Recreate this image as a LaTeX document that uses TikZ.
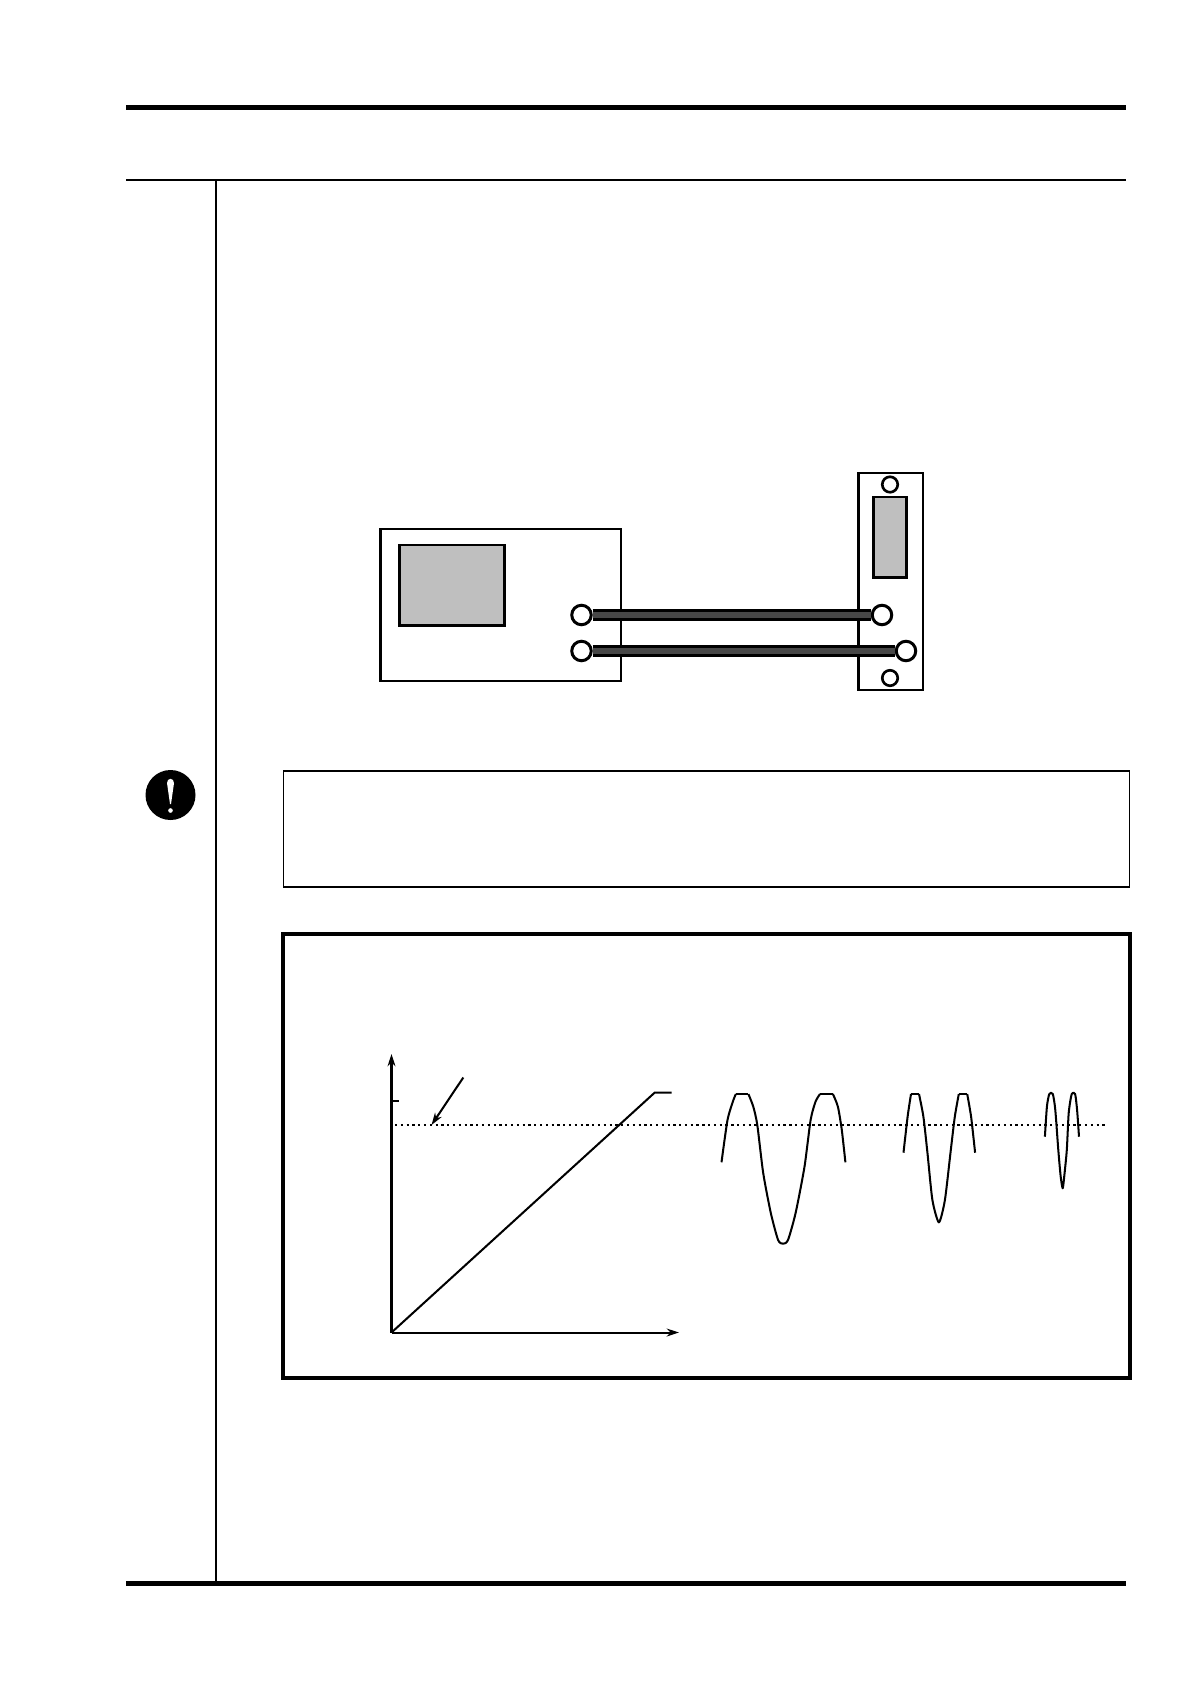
\documentclass[tikz,border=0pt]{standalone}
\usepackage{tikz}
\usetikzlibrary{arrows.meta}
\colorlet{screengray}{black!25}
\colorlet{cablegray}{black!72}
\tikzset{
    box/.style={draw, line width=1.6pt},
    screen/.style={draw, line width=1.6pt, fill=screengray},
    port/.style={circle, draw, line width=1.7pt, fill=white, inner sep=0pt, minimum size=0.39cm},
    screw/.style={circle, draw, line width=1.5pt, fill=white, inner sep=0pt, minimum size=0.31cm},
    cable/.style={draw=black, line width=1.7pt, double=cablegray, double distance=3pt},
    wave/.style={line width=1.15pt, line join=round},
    axis/.style={-{Stealth[length=7pt,width=4.5pt]}, line width=1.15pt}
}
\begin{document}
\begin{tikzpicture}[x=0.02cm, y=-0.02cm]
    \useasboundingbox (0,0) rectangle (1190,1684);
    % page rules
    \foreach \y in {107.5,1583.5} {
        \draw[line width=2.5pt] (126,\y)--(1043,\y);
        \draw[line width=2.6pt] (1043,\y+0.2)--(1126,\y+0.2);
    }
    \draw[line width=1.3pt] (126,179.7)--(1126,179.7);
    \draw[line width=1.2pt] (216,179.5)--(216,1584);

    % instrument and panel
    \draw[box] (380.5,529) rectangle (621,681);
    \draw[screen] (399.5,545) rectangle (504.5,625.5);
    \draw[box] (858.5,473) rectangle (923,690);
    \draw[screen] (873.5,497) rectangle (906.5,577.5);
    \node[screw] (screwtop) at (890,484.5) {};
    \node[screw] (screwbot) at (890,678) {};
    \node[port] (outa) at (581.5,615) {};
    \node[port] (outb) at (581.5,651) {};
    \node[port] (ina) at (882,615) {};
    \node[port] (inb) at (906,651) {};
    \draw[cable] (outa) -- (ina);
    \draw[cable] (outb) -- (inb);

    % warning mark and frames
    \fill (170.5,795) circle (25);
    \fill[white] (167,783) .. controls (167,777.5) and (174,777.5) .. (174,783)
        -- (171,804) -- (170,804) -- cycle;
    \fill[white] (170.5,810.5) circle (2.3);
    \draw[line width=1.05pt] (283.5,771) rectangle (1129.5,887);
    \draw[line width=2.3pt] (283,934) rectangle (1130,1378);

    % graph
    \coordinate (origin) at (391.5,1332.5);
    \coordinate (ytop) at (391.5,1054);
    \coordinate (xend) at (679,1332.5);
    \coordinate (leadfrom) at (463.3,1077.5);
    \coordinate (leadto) at (431.5,1125);
    \draw[axis] (origin) -- (ytop);
    \draw[axis] (origin) -- (xend);
    \draw[wave] (391.5,1101)--(399,1101);
    \draw[line width=1.3pt, dotted] (395,1125)--(1104.8,1125);
    \draw[axis] (leadfrom) -- (leadto);
    \draw[wave] (origin)--(654.8,1092.5)--(671.7,1092.5);

    \draw[wave] plot[smooth, tension=0.4] coordinates {(721.5,1162.3) (727.5,1120) (733.4,1100) (735.9,1094)};
    \draw[wave] (735.9,1094)--(748.4,1094);
    \draw[wave] plot[smooth, tension=0.4] coordinates {(748.4,1094) (753.3,1106.7) (757.3,1125) (763.2,1173) (770.8,1213) (778.1,1240) (783,1243.7) (788,1240) (795.6,1213) (804.5,1166.7) (810.6,1120) (815.5,1101.7) (820,1094)};
    \draw[wave] (820,1094)--(832.9,1094);
    \draw[wave] plot[smooth, tension=0.4] coordinates {(832.9,1094) (837.9,1106.7) (841.8,1130) (845.4,1162.3)};

    \draw[wave] plot[smooth, tension=0.4] coordinates {(903.5,1152.7) (907.6,1116.7) (911,1094)};
    \draw[wave] (911,1094)--(919,1094);
    \draw[wave] plot[smooth, tension=0.4] coordinates {(919,1094) (923.4,1116.7) (927.5,1153.3) (932.4,1200) (938.9,1222.3) (944.9,1200) (950.8,1150) (954.8,1116.7) (958.8,1094)};
    \draw[wave] (958.8,1094)--(967.2,1094);
    \draw[wave] plot[smooth, tension=0.4] coordinates {(967.2,1094) (971.1,1116.7) (975.1,1152.7)};

    \draw[wave] plot[smooth, tension=0.4] coordinates {(1044.9,1136.7) (1046.9,1106.7) (1049.3,1094) (1052.8,1094) (1055.3,1110) (1058.3,1150) (1060.7,1176.7) (1062.7,1188.3) (1064.2,1176.7) (1066.8,1150) (1068.7,1113) (1071.7,1094) (1075.1,1094) (1077.1,1110) (1079,1136.7)};
\end{tikzpicture}
\end{document}
